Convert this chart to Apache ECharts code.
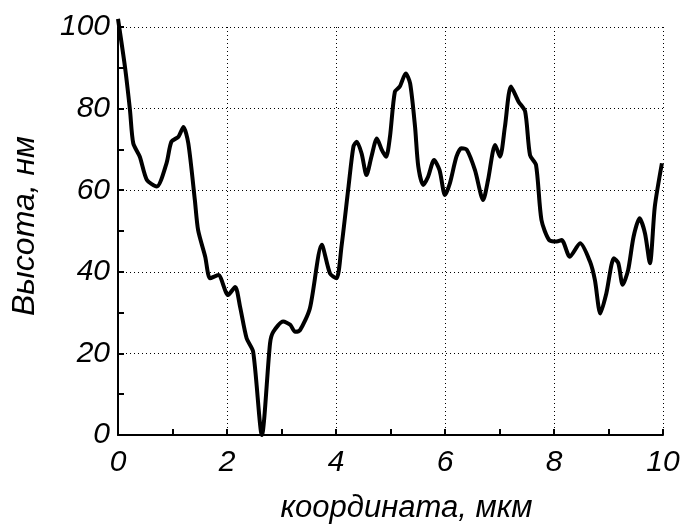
<!DOCTYPE html>
<html>
<head>
<meta charset="utf-8">
<script src="https://cdn.jsdelivr.net/npm/echarts@6/dist/echarts.min.js"></script>
<style>
  html, body { margin: 0; padding: 0; background: #fff; }
  #container { width: 684px; height: 524px; }
</style>
</head>
<body>
<div id="container"></div>
<script>
// координата, мкм
var coordX = [0, 0.13, 0.22, 0.28, 0.40, 0.53, 0.71, 0.89, 0.98, 1.11, 1.2, 1.29, 1.41, 1.47, 1.6, 1.69, 1.84, 2.02, 2.15, 2.24,
    2.36, 2.48, 2.64, 2.79, 2.85, 3.03, 3.16, 3.25, 3.34, 3.52, 3.74, 3.89, 4.01, 4.1, 4.23, 4.32, 4.38, 4.47, 4.56, 4.65,
    4.75, 4.84, 4.92, 4.99, 5.08, 5.17, 5.28, 5.36, 5.45, 5.51, 5.6, 5.69, 5.8, 5.9, 6.0, 6.09, 6.21, 6.3, 6.4, 6.55,
    6.7, 6.79, 6.92, 7.01, 7.1, 7.21, 7.35, 7.47, 7.56, 7.67, 7.77, 7.91, 8.05, 8.14, 8.29, 8.48, 8.66, 8.75, 8.85, 8.96,
    9.1, 9.18, 9.26, 9.36, 9.46, 9.57, 9.67, 9.76, 9.85, 9.98];
// высота, нм
var heightY = [102, 90, 79.6, 71.5, 68.2, 62.5, 60.9, 66.6, 71.9, 73.1, 75.5, 71.5, 57.6, 50.2, 43.7, 38.4, 39.2, 34.3, 36.3, 31.4,
    23.7, 20.4, 0, 22.5, 25.3, 27.8, 27, 25.3, 25.7, 31, 46.6, 39.6, 38.4, 46.1, 60.9, 70.7, 71.9, 69, 63.7, 68.2,
    72.7, 69.9, 68.2, 73.1, 84.1, 85.4, 88.6, 86.2, 75.6, 65.8, 61.3, 63.3, 67.4, 64.9, 58.8, 61.7, 68.2, 70.3, 69.9, 64.9,
    57.6, 62.5, 71.1, 68.2, 75.6, 85.4, 81.7, 79.3, 68.6, 66.2, 52.7, 47.8, 47.4, 47.8, 43.7, 47, 42.5, 38, 29.8, 34.7,
    43.3, 42.1, 36.8, 40.4, 48.6, 53.1, 49.4, 42.1, 56, 66.6];

var fontName = 'Liberation Sans, Arial, sans-serif';

var chart = echarts.init(document.getElementById('container'), null, { renderer: 'canvas' });

var option = {
    backgroundColor: '#fff',
    animation: false,
    grid: { left: 118, right: 21, top: 27, bottom: 89, outerBoundsMode: 'none', containLabel: false },
    xAxis: {
        type: 'value',
        min: 0,
        max: 10,
        interval: 2,
        name: 'координата, мкм',
        nameLocation: 'middle',
        nameGap: 58,
        nameTextStyle: { fontFamily: fontName, fontStyle: 'italic', fontSize: 31, color: '#000', padding: [0, 0, 0, 32] },
        axisLine: { show: true, onZero: false, lineStyle: { color: '#000', width: 2 } },
        axisTick: { show: true, inside: true, length: 6, lineStyle: { color: '#000', width: 2 } },
        minorTick: { show: true, splitNumber: 2, length: 6, lineStyle: { color: '#000', width: 2 } },
        axisLabel: { fontFamily: fontName, fontStyle: 'italic', fontSize: 30, color: '#000', margin: 13 },
        splitLine: { show: true, lineStyle: { color: '#000', width: 1, type: [1, 3] } }
    },
    yAxis: {
        type: 'value',
        min: 0,
        max: 100,
        interval: 20,
        name: 'Высота, нм',
        nameLocation: 'middle',
        nameGap: 77,
        nameTextStyle: { fontFamily: fontName, fontStyle: 'italic', fontSize: 32, color: '#000', padding: [0, 0, 0, 10] },
        axisLine: { show: true, onZero: false, lineStyle: { color: '#000', width: 2 } },
        axisTick: { show: true, inside: true, length: 6, lineStyle: { color: '#000', width: 2 } },
        minorTick: { show: true, splitNumber: 2, length: 6, lineStyle: { color: '#000', width: 2 } },
        axisLabel: { fontFamily: fontName, fontStyle: 'italic', fontSize: 30, color: '#000', margin: 8 },
        splitLine: { show: true, lineStyle: { color: '#000', width: 1, type: [1, 3] } }
    },
    series: [{
        type: 'line',
        data: coordX.map((x, i) => [x, heightY[i]]),
        smooth: 0.25,
        clip: false,
        showSymbol: false,
        lineStyle: { color: '#000', width: 4 }
    }]
};

chart.setOption(option);
</script>
</body>
</html>
